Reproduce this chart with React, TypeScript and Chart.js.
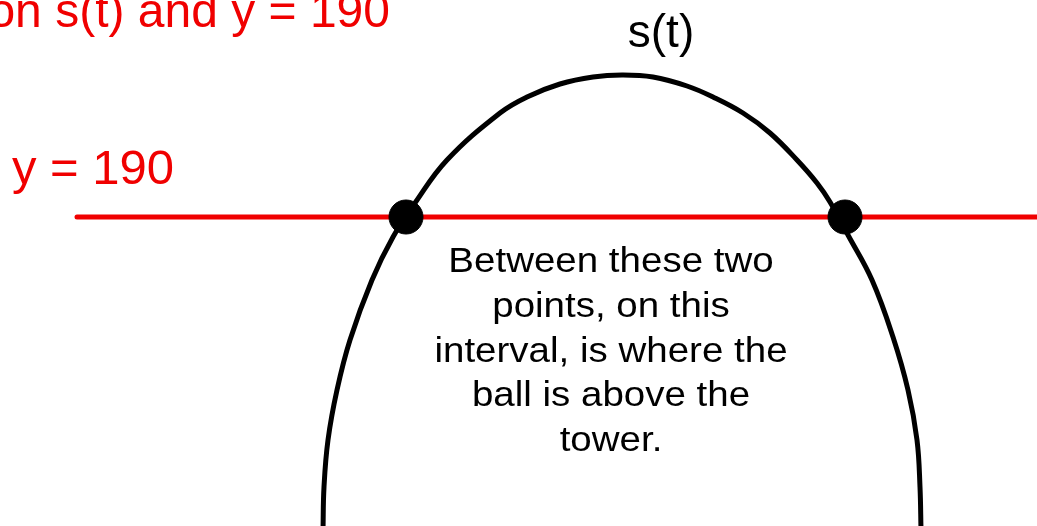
import React, { useEffect, useRef } from "react";
import { Chart, registerables } from "chart.js";

Chart.register(...registerables);

// Curve s(t): points (t, height)
const curveT = [323, 324, 328, 337, 350, 372, 393, 415, 447, 500, 527, 560, 593, 622, 653, 687, 713, 743, 770, 797, 817, 830, 848, 872, 893, 908, 917, 920, 921];
const curveS = [-123, -80, -33, 17, 67, 127, 170, 204, 247, 294, 310, 323, 330, 332, 330, 321, 310, 294, 274, 247, 224, 205, 172, 127, 70, 17, -33, -80, -123];

// Horizontal line y = 190
const lineT = [77, 1040];
const lineY = [190, 190];

// Intersection points
const crossT = [406, 845];
const crossY = [190, 190];

// Text labels
const titleText = "on s(t) and y = 190";
const lineLabel = "y = 190";
const curveLabel = "s(t)";
const noteLines = [
  "Between these two",
  "points, on this",
  "interval, is where the",
  "ball is above the",
  "tower.",
];

const RED = "#f00000";
const FONT = '"Liberation Sans", Arial, sans-serif';

const textPlugin = {
  id: "diagramText",
  afterDatasetsDraw(chart: any) {
    const { ctx } = chart;
    const xs = chart.scales.x;
    const ys = chart.scales.y;
    ctx.save();
    ctx.textBaseline = "alphabetic";
    // title (cut off at top/left like the reference)
    ctx.fillStyle = RED;
    ctx.font = `48px ${FONT}`;
    ctx.textAlign = "right";
    ctx.fillText(titleText, xs.getPixelForValue(390), ys.getPixelForValue(380));
    // y = 190 label
    ctx.textAlign = "left";
    ctx.font = `49px ${FONT}`;
    ctx.fillText(lineLabel, xs.getPixelForValue(12), ys.getPixelForValue(223));
    // s(t) label
    ctx.fillStyle = "#000";
    ctx.font = `46px ${FONT}`;
    ctx.textAlign = "center";
    ctx.fillText(curveLabel, xs.getPixelForValue(661), ys.getPixelForValue(360));
    // note (slightly wide lettering, as in the reference)
    ctx.font = `35px ${FONT}`;
    const cx = xs.getPixelForValue(611);
    const y0 = ys.getPixelForValue(135);
    const sx = 1.1;
    noteLines.forEach((ln, i) => {
      ctx.save();
      ctx.translate(cx, y0 + i * 44.8);
      ctx.scale(sx, 1);
      ctx.fillText(ln, 0, 0);
      ctx.restore();
    });
    ctx.restore();
  },
};

export default function App() {
  const ref = useRef<HTMLCanvasElement | null>(null);
  useEffect(() => {
    document.body.style.margin = "0";
    document.body.style.background = "#fff";
    const canvas = ref.current!;
    const chart = new Chart(canvas, {
      type: "scatter",
      data: {
        datasets: [
          {
            label: "crossings",
            data: crossT.map((t, i) => ({ x: t, y: crossY[i] })),
            backgroundColor: "#000",
            borderColor: "#000",
            pointRadius: 17,
            showLine: false,
            clip: false,
            order: 0,
          },
          {
            label: "s(t)",
            data: curveT.map((t, i) => ({ x: t, y: curveS[i] })),
            borderColor: "#000",
            borderWidth: 5,
            pointRadius: 0,
            showLine: true,
            tension: 0.4,
            order: 1,
          },
          {
            label: "y = 190",
            data: lineT.map((t, i) => ({ x: t, y: lineY[i] })),
            borderColor: RED,
            borderWidth: 5,
            borderCapStyle: "round",
            pointRadius: 0,
            showLine: true,
            order: 2,
          },
        ],
      },
      options: {
        animation: false,
        responsive: false,
        layout: { padding: 0, autoPadding: false },
        plugins: { legend: { display: false }, tooltip: { enabled: false } },
        scales: {
          x: { type: "linear", min: 0, max: 1037, display: false },
          y: { type: "linear", min: -119, max: 407, display: false },
        },
      },
      plugins: [textPlugin],
    } as any);
    return () => chart.destroy();
  }, []);
  return (
    <div style={{ width: 1037, height: 526, background: "#fff" }}>
      <canvas ref={ref} width={1037} height={526} style={{ display: "block" }} />
    </div>
  );
}
